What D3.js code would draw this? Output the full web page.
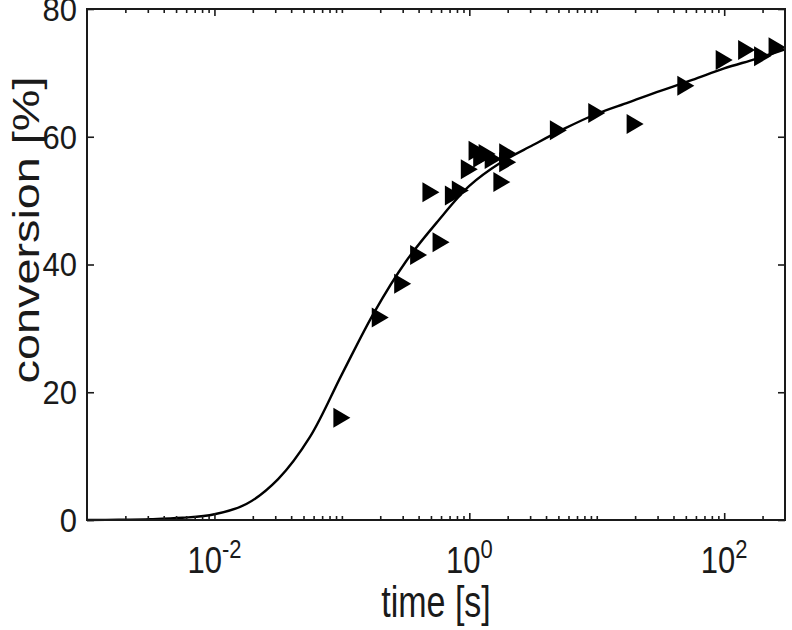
<!DOCTYPE html>
<html>
<head>
<meta charset="utf-8">
<script src="https://cdn.jsdelivr.net/npm/d3@7"></script>
<style>
  html, body { margin: 0; padding: 0; background: #fff; }
  svg { display: block; }
  text { font-family: "Liberation Sans", Arial, Helvetica, sans-serif; fill: #1a1a1a; }
</style>
</head>
<body>
<svg id="chart" width="792" height="630"></svg>
<script>
// ---- data ----
const dataTime = [0.1, 0.2, 0.3, 0.4, 0.6, 0.5, 0.75, 0.85, 1.0, 1.15, 1.25, 1.38, 1.54, 1.8, 2.0, 2.0, 5.0, 10, 20, 50, 100, 150, 200, 260];
const dataConv = [16.0, 31.7, 37.0, 41.5, 43.5, 51.3, 50.8, 51.6, 54.9, 57.8, 56.7, 57.3, 56.5, 52.9, 57.4, 56.0, 61.0, 63.7, 62.0, 68.0, 72.0, 73.6, 72.6, 74.0];

// fitted model curve, read at quarter-decade steps
const fitTime = [0.001, 0.00178, 0.00316, 0.00562, 0.01, 0.0178, 0.0316, 0.0562, 0.1, 0.178, 0.316, 0.562, 1.0, 1.78, 3.16, 5.62, 10, 17.8, 31.6, 56.2, 100, 178, 300];
const fitConv = [0, 0.03, 0.12, 0.35, 0.9, 2.5, 6.4, 13.0, 22.8, 32.4, 40.4, 46.7, 52.3, 56.0, 58.7, 61.3, 63.6, 65.4, 67.2, 68.9, 70.7, 72.2, 73.7];

const xMajorTicks = [1e-2, 1e0, 1e2];
const xTickExp = ["-2", "0", "2"];
const yTicks = [0, 20, 40, 60, 80];
const xTitle = "time [s]";
const yTitle = "conversion [%]";

// ---- layout ----
const L = 87, R = 785, T = 9, B = 520;
const svg = d3.select("#chart");

const x = d3.scaleLog().domain([1e-3, 300]).range([L, R]);
const y = d3.scaleLinear().domain([0, 80]).range([B, T]);

// minor ticks: 2..9 in each decade within domain
const minorTicks = [];
for (let e = -3; e <= 2; e++) {
  for (let m = 1; m <= 9; m++) {
    const v = m * Math.pow(10, e);
    if (v > 1e-3 * 1.0001 && v < 300 && !xMajorTicks.some(t => Math.abs(t - v) / v < 1e-6)) minorTicks.push(v);
  }
}

const g = svg.append("g");

// fit curve
const line = d3.line()
  .x((d, i) => x(fitTime[i]))
  .y((d, i) => y(fitConv[i]))
  .curve(d3.curveCatmullRom.alpha(0.5));
g.append("path")
  .datum(fitConv)
  .attr("d", line)
  .attr("fill", "none")
  .attr("stroke", "#000")
  .attr("stroke-width", 2.4);

// markers (right-pointing triangles)
const tri = "M8.5,0 L-8.5,-10 L-8.5,10 Z";
g.selectAll("path.mk")
  .data(dataConv)
  .join("path")
  .attr("class", "mk")
  .attr("d", tri)
  .attr("transform", (d, i) => `translate(${x(dataTime[i])},${y(d)})`)
  .attr("fill", "#000");

// axes (ticks inward)
const axisStroke = "#1a1a1a";
const axBottom = svg.append("g").attr("transform", `translate(0,${B})`)
  .call(d3.axisBottom(x).tickValues(xMajorTicks).tickSize(-7).tickFormat(""));
const axBottomMinor = svg.append("g").attr("transform", `translate(0,${B})`)
  .call(d3.axisBottom(x).tickValues(minorTicks).tickSize(-4).tickFormat(""));
const axTop = svg.append("g").attr("transform", `translate(0,${T})`)
  .call(d3.axisTop(x).tickValues(xMajorTicks).tickSize(-7).tickFormat(""));
const axTopMinor = svg.append("g").attr("transform", `translate(0,${T})`)
  .call(d3.axisTop(x).tickValues(minorTicks).tickSize(-4).tickFormat(""));
const axLeft = svg.append("g").attr("transform", `translate(${L},0)`)
  .call(d3.axisLeft(y).tickValues(yTicks).tickSize(-7).tickFormat(""));
const axRight = svg.append("g").attr("transform", `translate(${R},0)`)
  .call(d3.axisRight(y).tickValues(yTicks).tickSize(-7).tickFormat(""));

[axBottom, axBottomMinor, axTop, axTopMinor, axLeft, axRight].forEach(a => {
  a.selectAll(".domain").remove();
  a.selectAll("line").attr("stroke", axisStroke).attr("stroke-width", 1.6);
});

// box
svg.append("rect")
  .attr("x", L).attr("y", T).attr("width", R - L).attr("height", B - T)
  .attr("fill", "none").attr("stroke", axisStroke).attr("stroke-width", 2);

// y tick labels
svg.append("g").selectAll("text")
  .data(yTicks)
  .join("text")
  .attr("transform", d => `translate(${L - 10},${y(d)}) scale(1,1.1)`)
  .attr("dy", "0.35em")
  .attr("text-anchor", "end")
  .attr("font-size", 31)
  .text(d => d);

// x tick labels: 10^e
const xl = svg.append("g").selectAll("text")
  .data(xMajorTicks)
  .join("text")
  .attr("transform", d => `translate(${x(d)},573) scale(1,1.18)`)
  .attr("text-anchor", "middle")
  .attr("font-size", 31);
xl.append("tspan").text("10");
xl.append("tspan").attr("dy", -13).attr("font-size", 22).text((d, i) => xTickExp[i]);

// axis titles
svg.append("text")
  .attr("transform", `translate(${(L + R) / 2},617) scale(1,1.28)`)
  .attr("text-anchor", "middle")
  .attr("font-size", 34)
  .text(xTitle);

svg.append("text")
  .attr("transform", `translate(39,230) rotate(-90) scale(1.3,1)`)
  .attr("text-anchor", "middle")
  .attr("font-size", 36)
  .text(yTitle);
</script>
</body>
</html>
